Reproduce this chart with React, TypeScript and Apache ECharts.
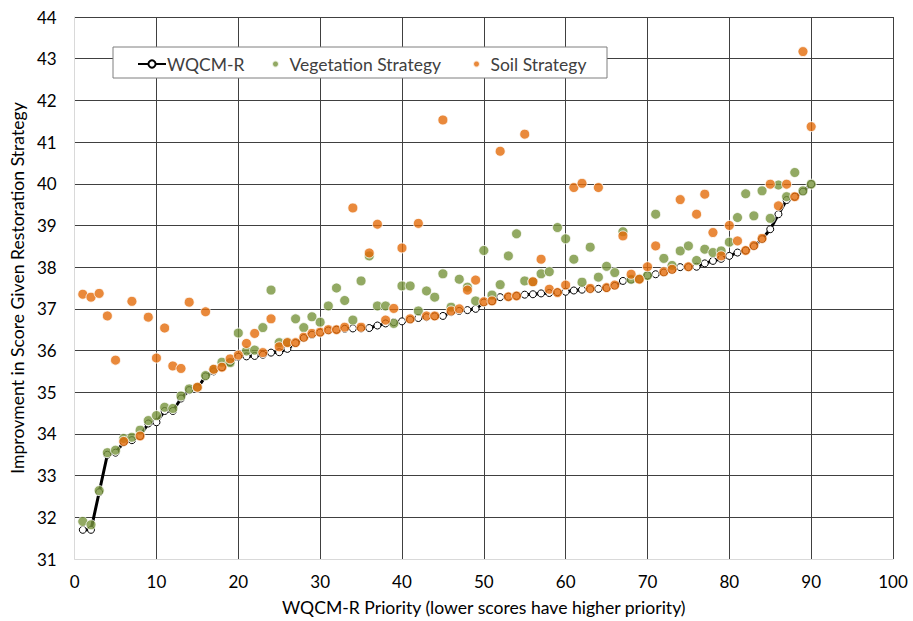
import React, { useEffect, useRef } from "react";
import * as echarts from "echarts";

const priority: number[] = Array.from({ length: 90 }, (_, i) => i + 1);

const wqcmR: number[] = [
  31.70, 31.70, 32.60, 33.50, 33.55, 33.80, 33.85, 33.95, 34.25, 34.28,
  34.55, 34.55, 34.85, 35.05, 35.10, 35.38, 35.50, 35.60, 35.72, 35.85,
  35.86, 35.87, 35.90, 35.95, 35.96, 36.04, 36.18, 36.30, 36.38, 36.43,
  36.48, 36.50, 36.52, 36.53, 36.53, 36.54, 36.60, 36.65, 36.68, 36.70,
  36.74, 36.78, 36.80, 36.82, 36.83, 36.92, 36.95, 36.97, 37.00, 37.15,
  37.18, 37.28, 37.29, 37.31, 37.34, 37.35, 37.37, 37.38, 37.40, 37.41,
  37.44, 37.46, 37.47, 37.48, 37.50, 37.55, 37.67, 37.70, 37.71, 37.80,
  37.83, 37.87, 37.93, 38.00, 38.00, 38.01, 38.09, 38.15, 38.20, 38.27,
  38.35, 38.40, 38.50, 38.67, 38.91, 39.27, 39.61, 39.69, 39.81, 39.99,
];

const vegetation: number[] = [
  31.90, 31.82, 32.64, 33.55, 33.61, 33.89, 33.92, 34.09, 34.32, 34.44,
  34.64, 34.61, 34.91, 35.08, 35.12, 35.40, 35.55, 35.72, 35.71, 36.42,
  35.99, 36.01, 36.55, 37.45, 36.19, 36.20, 36.76, 36.55, 36.81, 36.68,
  37.07, 37.50, 37.20, 36.73, 37.67, 38.27, 37.07, 37.07, 36.65, 37.55,
  37.55, 36.95, 37.43, 37.28, 37.84, 37.04, 37.71, 37.52, 37.19, 38.40,
  37.33, 37.58, 38.27, 38.80, 37.67, 37.65, 37.84, 37.89, 38.95, 38.68,
  38.19, 37.64, 38.48, 37.76, 38.02, 37.87, 38.85, 37.71, 37.72, 37.80,
  39.27, 38.21, 38.04, 38.39, 38.51, 38.16, 38.43, 38.35, 38.39, 38.60,
  39.19, 39.76, 39.23, 39.83, 39.17, 39.97, 39.69, 40.27, 39.83, 39.99,
];

const soil: number[] = [
  37.35, 37.28, 37.37, 36.83, 35.77, 33.82, 37.18, 33.95, 36.80, 35.82,
  36.54, 35.63, 35.57, 37.16, 35.12, 36.93, 35.55, 35.60, 35.80, 35.89,
  36.17, 36.41, 35.95, 36.76, 36.09, 36.19, 36.19, 36.32, 36.41, 36.44,
  36.50, 36.50, 36.56, 39.42, 36.56, 38.34, 39.03, 36.73, 37.01, 38.46,
  36.76, 39.05, 36.83, 36.83, 41.53, 36.95, 37.00, 37.45, 37.69, 37.17,
  37.19, 40.78, 37.29, 37.31, 41.19, 37.65, 38.19, 37.47, 37.39, 37.57,
  39.91, 40.01, 37.49, 39.91, 37.51, 37.57, 38.75, 37.83, 37.71, 38.01,
  38.51, 37.89, 37.95, 39.62, 38.01, 39.27, 39.75, 38.83, 38.27, 39.00,
  38.63, 38.40, 38.52, 38.69, 39.99, 39.47, 39.99, 39.69, 43.17, 41.37,
];

const FONT = "Lato";

export default function App() {
  const ref = useRef<HTMLDivElement>(null);
  useEffect(() => {
    if (!ref.current) return;
    const chart = echarts.init(ref.current, undefined, { renderer: "svg" });
    const pts = (arr: number[]) => arr.map((v, i) => [priority[i], v]);
    const dotStyle = (color: string) => ({ color, borderColor: "#ffffff", borderWidth: 1 });
    const legendText = { fontFamily: FONT, fontSize: 17.5, color: "#404040" };
    chart.setOption({
      animation: false,
      backgroundColor: "#ffffff",
      textStyle: { fontFamily: FONT },
      grid: { left: 70, right: 20, top: 17, bottom: 62, containLabel: false },
      xAxis: {
        type: "value",
        min: 0,
        max: 100,
        interval: 10,
        name: "WQCM-R Priority (lower scores have higher priority)",
        nameLocation: "middle",
        nameGap: 39,
        nameTextStyle: { fontFamily: FONT, fontSize: 17.6, color: "#000" },
        axisLine: { show: true, lineStyle: { color: "#d9d9d9", width: 1 } },
        axisTick: { show: false },
        axisLabel: { fontFamily: FONT, fontSize: 17, color: "#000", margin: 14 },
        splitLine: { show: true, showMinLine: false, lineStyle: { color: "#404040", width: 1 } },
      },
      yAxis: {
        type: "value",
        min: 31,
        max: 44,
        interval: 1,
        name: "Improvment in Score Given Restoration Strategy",
        nameLocation: "middle",
        nameRotate: 90,
        nameGap: 43,
        nameTextStyle: { fontFamily: FONT, fontSize: 17.6, color: "#000" },
        axisLine: { show: true, lineStyle: { color: "#d9d9d9", width: 1 } },
        axisTick: { show: false },
        axisLabel: { fontFamily: FONT, fontSize: 17, color: "#000", margin: 18 },
        splitLine: { show: true, showMinLine: false, lineStyle: { color: "#404040", width: 1 } },
      },
      legend: [
        {
          z: 20,
          left: 132,
          top: 50,
          itemWidth: 28,
          itemHeight: 9,
          itemGap: 0,
          data: ["WQCM-R"],
          textStyle: { ...legendText, padding: [0, 0, 0, -4] },
        },
        {
          z: 20,
          left: 266,
          top: 50,
          itemWidth: 18,
          itemHeight: 7,
          icon: "circle",
          data: ["Vegetation Strategy"],
          textStyle: legendText,
        },
        {
          z: 20,
          left: 467,
          top: 50,
          itemWidth: 18,
          itemHeight: 7,
          icon: "circle",
          data: ["Soil Strategy"],
          textStyle: legendText,
        },
      ],
      graphic: [
        {
          type: "rect",
          z: 10,
          shape: { x: 113, y: 47, width: 494, height: 31 },
          style: { fill: "#ffffff", stroke: "#7f7f7f", lineWidth: 1 },
        },
      ],
      series: [
        {
          name: "WQCM-R",
          type: "line",
          data: pts(wqcmR),
          color: "#000000",
          symbol: "circle",
          symbolSize: 7,
          lineStyle: { color: "#000000", width: 3 },
          itemStyle: { color: "#ffffff", borderColor: "#000000", borderWidth: 1 },
          z: 2,
        },
        {
          name: "Vegetation Strategy",
          type: "scatter",
          data: pts(vegetation),
          symbolSize: 10,
          itemStyle: dotStyle("#77933c"),
          z: 3,
        },
        {
          name: "Soil Strategy",
          type: "scatter",
          data: pts(soil),
          symbolSize: 10,
          itemStyle: dotStyle("#e46c0a"),
          z: 4,
        },
      ],
    });
    return () => chart.dispose();
  }, []);
  return (
    <div
      ref={ref}
      style={{ position: "absolute", left: 0, top: 0, width: 913, height: 621 }}
    />
  );
}
